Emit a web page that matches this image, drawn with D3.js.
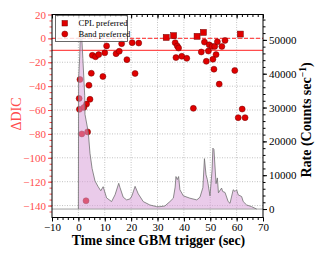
<!DOCTYPE html>
<html>
<head>
<meta charset="utf-8">
<script src="https://cdn.jsdelivr.net/npm/d3@7"></script>
<style>
  body { margin: 0; background: #fff; }
  svg text { font-family: "Liberation Serif", "DejaVu Serif", serif; }
</style>
</head>
<body>
<script>
// light curve (time in sec, rate in counts/sec)
var lcTime = [0, 0.1, 0.5, 0.8, 1.2, 1.7, 2.4, 2.5, 3.75, 4.4, 5.2, 6.3, 7.5, 8.5, 9.4, 10.7, 12.6, 13.9, 15.3, 15.8,
  17.0, 18.3, 19.6, 20.3, 21.5, 22.7, 24.6, 27.1, 29.7, 30.9, 32.8, 34.7, 36.0, 36.7, 37.0, 37.5, 38.0, 38.5, 39.8,
  42.3, 44.9, 46.1, 47.2, 47.8, 48.4, 48.9, 49.9, 50.7, 51.0, 51.4, 52.2, 52.7, 53.1, 54.3, 54.7, 55.6, 56.8, 57.5,
  58.7, 59.4, 60.0, 60.6, 61.9, 62.5, 63.8, 65.7, 67.6];
var lcRate = [0, 38500, 45000, 53000, 52000, 44500, 33500, 28000, 22700, 16500, 12000, 8300, 6600, 5400, 6600, 3300,
  2200, 4200, 7600, 6300, 3500, 2700, 3000, 3900, 6700, 4500, 2200, 1200, 700, 700, 900, 2200, 3200, 6500, 9600, 8700,
  9600, 5700, 3900, 3200, 2700, 3500, 6300, 14900, 10100, 8700, 3900, 11600, 18000, 17600, 7500, 9200, 4800, 6200,
  5200, 4900, 2200, 1700, 5700, 5200, 5700, 4200, 3700, 2200, 1200, 700, 0];

// Band preferred points (time, delta DIC)
var bandTime = [0.6, 0.3, 0.4, 4.0, 4.4, 3.1, 2.1, 5.3, 6.5, 7.7, 10.0, 10.7, 4.9, 9.3, 1.3, 3.5, 2.9, 14.3, 15.5, 16.4,
  18.4, 20.4, 22.9, 21.5, 43.6, 36.7, 37.5, 38.0, 37.0, 39.2, 41.1, 46.6, 47.8, 48.5, 49.3, 49.6, 50.7, 51.7, 52.7,
  54.4, 55.6, 52.2, 51.0, 51.4, 53.4, 59.3, 62.1, 60.6, 63.2];
var bandDIC = [-34.4, -50.3, -59.4, -39.2, -51, -55, -57.8, -14.2, -15.4, -13.6, -12.1, -6.3, -29.2, -31.9, -80, -78.3,
  -136, -12.8, -10.8, -4.4, -17.8, -3.6, -3.9, -29.4, -58.6, -3.6, -6.4, -8.1, -16.1, -15, -16.7, -11.4, -3.1, -19.2,
  -10.6, -5.4, -6.7, -6.7, -2.8, -6.7, -1.7, -13.6, -17.5, -25.8, -38.3, -26.9, -59.2, -66.4, -66.4];

// CPL preferred points
var cplTime = [33.3, 36.1, 45.0, 47.4, 61.4];
var cplDIC = [0.8, 2.3, 1.7, 5, 3.6];

var xTicks = [-10, 0, 10, 20, 30, 40, 50, 60, 70];
var dicTicks = [20, 0, -20, -40, -60, -80, -100, -120, -140];
var rateTicks = [0, 10000, 20000, 30000, 40000, 50000];
var refLines = [0, -10];

var W = 320, H = 256;
var mLeft = 52, mRight = 263, mTop = 14.5, mBottom = 217.5;

var svg = d3.select("body").append("svg")
  .attr("width", W)
  .attr("height", H);

var x = d3.scaleLinear().domain([-10, 70]).range([mLeft, mRight]);
var y = d3.scaleLinear().domain([-150, 20]).range([mBottom, mTop]);
var yr = d3.scaleLinear().domain([-2500, 57500]).range([mBottom, mTop]);

var red = "#ff4d4d";
var minus = d => d < 0 ? "\u2212" + (-d) : d;

// grid
var grid = svg.append("g")
  .attr("stroke", "#a8a8a8")
  .attr("stroke-width", 0.7)
  .attr("stroke-dasharray", "1,1.5");
grid.selectAll("line.vx").data(xTicks.slice(1, -1)).enter().append("line")
  .attr("x1", d => x(d)).attr("x2", d => x(d))
  .attr("y1", mTop).attr("y2", mBottom);
grid.selectAll("line.hy").data(dicTicks.slice(1)).enter().append("line")
  .attr("x1", mLeft).attr("x2", mRight)
  .attr("y1", d => y(d)).attr("y2", d => y(d));

// reference lines
svg.append("line")
  .attr("x1", mLeft).attr("x2", mRight)
  .attr("y1", y(refLines[0])).attr("y2", y(refLines[0]))
  .attr("stroke", red).attr("stroke-width", 1.3)
  .attr("stroke-dasharray", "4,2");
svg.append("line")
  .attr("x1", mLeft).attr("x2", mRight)
  .attr("y1", y(refLines[1])).attr("y2", y(refLines[1]))
  .attr("stroke", red).attr("stroke-width", 1.3);

// points
svg.selectAll("circle.band").data(bandTime).enter().append("circle")
  .attr("cx", d => x(d))
  .attr("cy", (d, i) => y(bandDIC[i]))
  .attr("r", 3)
  .attr("fill", "#e00000")
  .attr("stroke", "#700000")
  .attr("stroke-width", 0.5);
svg.selectAll("rect.cpl").data(cplTime).enter().append("rect")
  .attr("x", d => x(d) - 3)
  .attr("y", (d, i) => y(cplDIC[i]) - 3)
  .attr("width", 6).attr("height", 6)
  .attr("fill", "#e00000")
  .attr("stroke", "#700000")
  .attr("stroke-width", 0.5);

// light curve
var lc = lcTime.map((t, i) => [t, lcRate[i]]);
svg.append("path")
  .datum(lc)
  .attr("d", d3.area().x(d => x(d[0])).y0(yr(0)).y1(d => yr(d[1])))
  .attr("fill", "#d9a0d9")
  .attr("fill-opacity", 0.55);
svg.append("line")
  .attr("x1", mLeft).attr("x2", mRight)
  .attr("y1", yr(0)).attr("y2", yr(0))
  .attr("stroke", "#a0a0a0").attr("stroke-width", 1);
svg.append("path")
  .datum(lc)
  .attr("d", d3.line().x(d => x(d[0])).y(d => yr(d[1])))
  .attr("fill", "none")
  .attr("stroke", "#707070")
  .attr("stroke-width", 0.8);

// axes
var fs = "11px";
var xAxis = svg.append("g")
  .attr("transform", "translate(0," + mBottom + ")")
  .call(d3.axisBottom(x).tickValues(xTicks).tickSize(4).tickPadding(2).tickFormat(minus));
xAxis.selectAll("text").attr("font-size", fs).attr("fill", "#000");
svg.append("g")
  .attr("transform", "translate(0," + mBottom + ")")
  .call(d3.axisBottom(x).tickValues(d3.range(-10, 71, 2)).tickSize(2.5).tickFormat(""));

svg.append("g")
  .attr("transform", "translate(0," + mTop + ")")
  .call(d3.axisBottom(x).tickValues(d3.range(-10, 71, 2)).tickSize(2.5).tickFormat(""));
svg.append("g")
  .attr("transform", "translate(0," + mTop + ")")
  .call(d3.axisBottom(x).tickValues(xTicks).tickSize(4).tickFormat(""));

var yAxis = svg.append("g")
  .attr("transform", "translate(" + mLeft + ",0)")
  .call(d3.axisLeft(y).tickValues(dicTicks).tickSize(4).tickPadding(2).tickFormat(minus));
yAxis.selectAll("text").attr("font-size", fs).attr("fill", red);
yAxis.selectAll(".tick line").attr("stroke", red);
var yMinor = svg.append("g")
  .attr("transform", "translate(" + mLeft + ",0)")
  .call(d3.axisLeft(y).tickValues(d3.range(-145, 20, 5)).tickSize(2.5).tickFormat(""));
yMinor.selectAll(".tick line").attr("stroke", red);

var rAxis = svg.append("g")
  .attr("transform", "translate(" + mRight + ",0)")
  .call(d3.axisRight(yr).tickValues(rateTicks).tickSize(4).tickPadding(2).tickFormat(d3.format("d")));
rAxis.selectAll("text").attr("font-size", fs).attr("fill", "#000");
svg.append("g")
  .attr("transform", "translate(" + mRight + ",0)")
  .call(d3.axisRight(yr).tickValues(d3.range(0, 57000, 2000)).tickSize(2.5).tickFormat(""));

svg.selectAll(".domain").remove();

// frame
svg.append("rect")
  .attr("x", mLeft).attr("y", mTop)
  .attr("width", mRight - mLeft).attr("height", mBottom - mTop)
  .attr("fill", "none").attr("stroke", "#000").attr("stroke-width", 1);

// legend
var lg = svg.append("g");
lg.append("rect")
  .attr("x", 55.5).attr("y", 15.5).attr("width", 72).attr("height", 26)
  .attr("fill", "#fff").attr("fill-opacity", 0.8)
  .attr("stroke", "#444").attr("stroke-width", 0.8);
lg.append("rect").attr("x", 62).attr("y", 20.5).attr("width", 5.5).attr("height", 5.5)
  .attr("fill", "#e00000").attr("stroke", "#700000").attr("stroke-width", 0.5);
lg.append("circle").attr("cx", 64.8).attr("cy", 34).attr("r", 3)
  .attr("fill", "#e00000").attr("stroke", "#700000").attr("stroke-width", 0.5);
lg.append("text").attr("x", 78.5).attr("y", 26).attr("font-size", "8.6px").text("CPL preferred");
lg.append("text").attr("x", 78.5).attr("y", 37).attr("font-size", "8.6px").text("Band preferred");

// axis titles
svg.append("text")
  .attr("x", (mLeft + mRight) / 2 + 1).attr("y", 245)
  .attr("text-anchor", "middle")
  .attr("font-size", "13.8px").attr("font-weight", "bold")
  .text("Time since GBM trigger (sec)");

svg.append("text")
  .attr("transform", "translate(21," + ((mTop + mBottom) / 2 - 2) + ") rotate(-90)")
  .attr("text-anchor", "middle")
  .attr("font-size", "14px").attr("fill", red)
  .text("\u0394DIC");

var rt = svg.append("text")
  .attr("transform", "translate(311," + ((mTop + mBottom) / 2 + 4) + ") rotate(-90)")
  .attr("text-anchor", "middle")
  .attr("font-size", "14px").attr("font-weight", "bold");
rt.append("tspan").text("Rate (Counts sec");
rt.append("tspan").attr("font-size", "9.5px").attr("dy", -5).text("\u22121");
rt.append("tspan").attr("dy", 5).text(")");
</script>
</body>
</html>
